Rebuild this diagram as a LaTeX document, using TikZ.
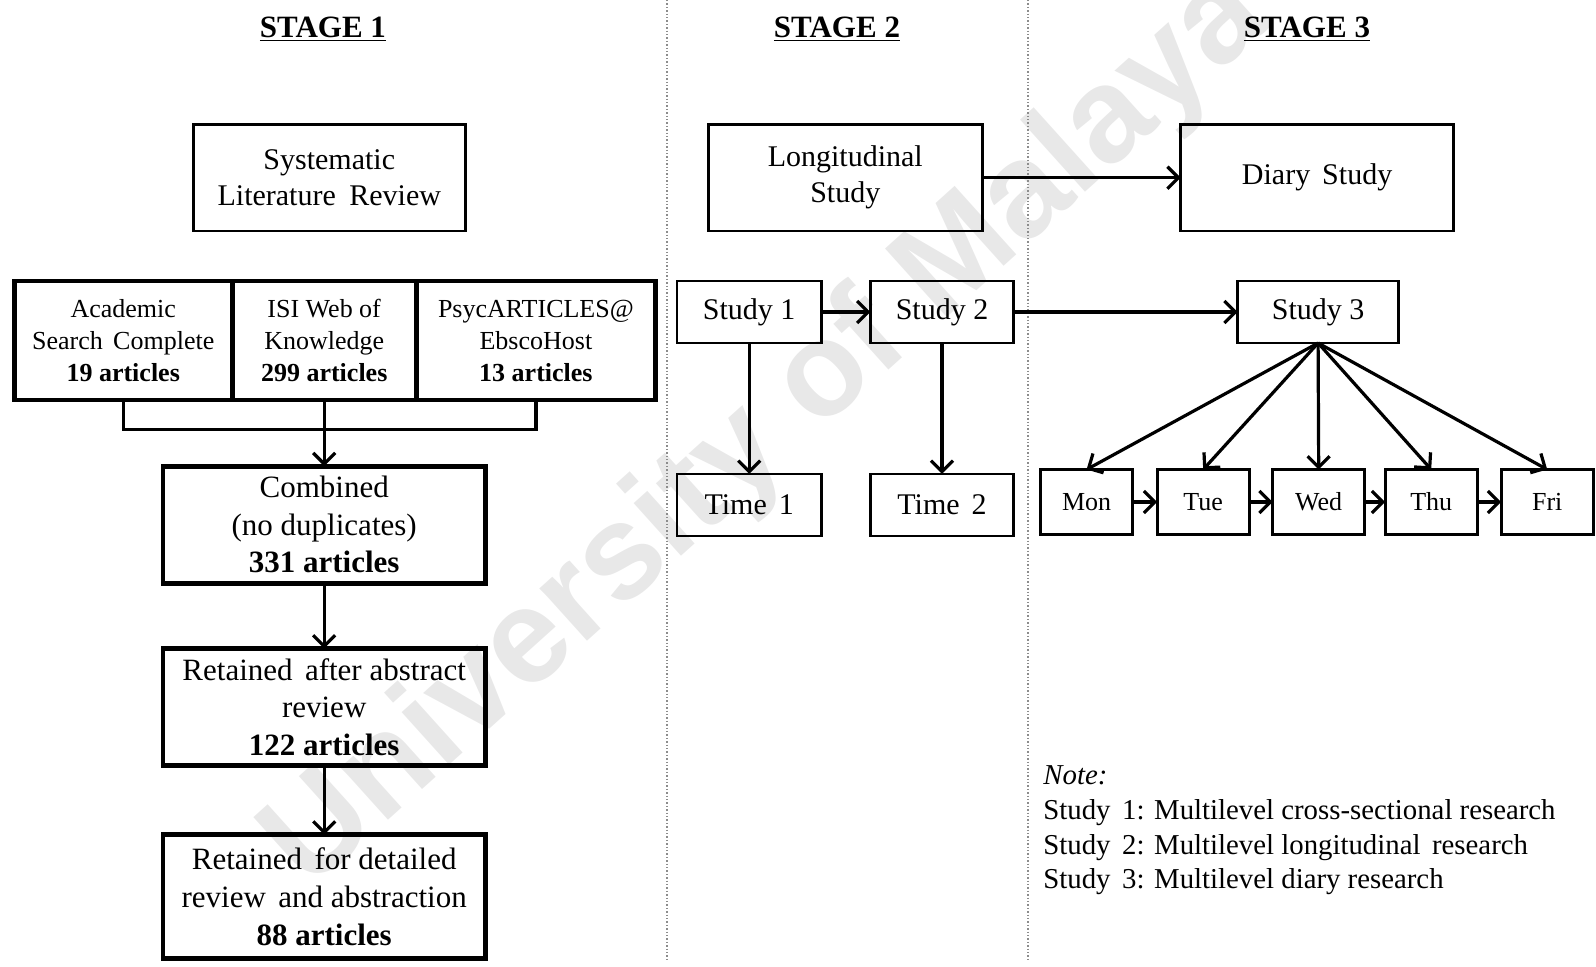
\documentclass[tikz,border=0pt]{standalone}
\usepackage{fontspec}
\setmainfont{Liberation Serif}
\newfontfamily\wmfont{Liberation Sans}
\usetikzlibrary{arrows.meta}

\begin{document}
\begin{tikzpicture}[x=0.5pt,y=-0.5pt,
  box/.style={draw, line width=1.3pt, inner sep=0pt, outer sep=0pt, align=center,
    font=\fontsize{15}{18}\selectfont},
  heavybox/.style={box, line width=2.4pt, font=\fontsize{15.5}{18.8}\selectfont,
    minimum width=161.3pt},
  dbbox/.style={heavybox, font=\fontsize{13}{16}\selectfont, minimum height=59.5pt},
  studybox/.style={box, minimum height=31pt},
  daybox/.style={box, font=\fontsize{13}{15}\selectfont, minimum width=46pt, minimum height=32.5pt},
  conn/.style={line width=1.6pt},
  arr/.style={conn, -{Straight Barb[length=5.5pt,width=11pt]}},
  stagehead/.style={font=\fontsize{15.5}{18}\selectfont\bfseries, inner sep=0pt, anchor=base},
  divider/.style={black!45, densely dotted, line width=0.7pt},
  notetext/.style={anchor=base west, inner sep=0pt, font=\fontsize{14.4}{17}\selectfont}
]
\useasboundingbox (0,0) rectangle (1596,966);

% faint diagonal watermark behind everything
\node[rotate=42, text=black!9, inner sep=0pt,
      font=\wmfont\bfseries\fontsize{67}{67}\selectfont] (wm) at (768,432) {University of Malaya};

% column separators
\coordinate (d1t) at (667,0);   \coordinate (d1b) at (667,962);
\coordinate (d2t) at (1028,0);  \coordinate (d2b) at (1028,962);
\draw[divider] (d1t) -- (d1b);
\draw[divider] (d2t) -- (d2b);

% stage headings
\node[stagehead] (h1) at (323,37.7)  {\underline{STAGE 1}};
\node[stagehead] (h2) at (837,37.7)  {\underline{STAGE 2}};
\node[stagehead] (h3) at (1307,37.7) {\underline{STAGE 3}};

% ---------- Stage 1: literature review flow ----------
\node[box, minimum width=135.9pt, minimum height=53.4pt] (slr) at (329.3,177.7)
  {Systematic\\Literature\hspace{0.45em}Review};

\node[dbbox, minimum width=108.9pt] (db1) at (123.2,340.5)
  {Academic\\Search\hspace{0.4em}Complete\\\textbf{19 articles}};
\node[dbbox, minimum width=92.1pt] (db2) at (324.2,340.5)
  {ISI Web of\\Knowledge\\\textbf{299 articles}};
\node[dbbox, minimum width=119.6pt] (db3) at (535.9,340.5)
  {PsycARTICLES@\\EbscoHost\\\textbf{13 articles}};

\node[heavybox, minimum height=58.5pt] (comb) at (324.2,524.7)
  {Combined\\(no duplicates)\\\textbf{331 articles}};
\node[heavybox, minimum height=58.5pt] (abst) at (324.2,707)
  {Retained\hspace{0.4em}after abstract\\review\\\textbf{122 articles}};
\node[heavybox, minimum height=62.1pt] (detl) at (324.2,896.7)
  {Retained\hspace{0.4em}for detailed\\review\hspace{0.4em}and abstraction\\\textbf{88 articles}};

\draw[conn] (db1.south) -- ++(0,29.5) -| (db3.south);
\draw[arr] (db2.south) -- (comb.north);
\draw[arr] (comb.south) -- (abst.north);
\draw[arr] (abst.south) -- (detl.north);

% ---------- Stage 2: longitudinal study ----------
\node[box, minimum width=136.9pt, minimum height=53.4pt] (long) at (845.3,177.7)
  {Longitudinal\\Study};
\node[studybox, minimum width=72.2pt] (s1) at (749.2,312) {Study 1};
\node[studybox, minimum width=71.7pt] (s2) at (942,312)   {Study 2};
\node[studybox, minimum width=72.2pt] (t1) at (749.2,504.9) {Time\hspace{0.4em}1};
\node[studybox, minimum width=71.7pt] (t2) at (942,504.9)   {Time\hspace{0.4em}2};

\draw[arr] (s1.east) -- (s2.west);
\draw[arr] (s1.south) -- (t1.north);
\draw[arr] (s2.south) -- (t2.north);

% ---------- Stage 3: diary study ----------
\node[box, minimum width=136.4pt, minimum height=53.4pt] (diary) at (1317.1,177.7)
  {Diary\hspace{0.4em}Study};
\node[studybox, minimum width=80.4pt] (s3) at (1318.1,312) {Study 3};

\draw[arr] (long.east) -- (diary.west);
\draw[arr] (s2.east) -- (s3.west);

\node[daybox] (mon) at (1086.6,502) {Mon};
\node[daybox] (tue) at (1203.2,502) {Tue};
\node[daybox] (wed) at (1318.7,502) {Wed};
\node[daybox] (thu) at (1431.2,502) {Thu};
\node[daybox] (fri) at (1547.2,502) {Fri};

\foreach \d in {mon,tue,wed,thu,fri}
  \draw[arr] (s3.south) -- (\d.north);
\draw[arr] (mon.east) -- (tue.west);
\draw[arr] (tue.east) -- (wed.west);
\draw[arr] (wed.east) -- (thu.west);
\draw[arr] (thu.east) -- (fri.west);

% key to the studies
\node[notetext] (n0) at (1043,784)   {\textit{Note:}};
\node[notetext] (n1) at (1043,819.5) {Study\hspace{0.4em}1: Multilevel cross-sectional research};
\node[notetext] (n2) at (1043,854.5) {Study\hspace{0.4em}2: Multilevel longitudinal\hspace{0.4em}research};
\node[notetext] (n3) at (1043,888.5) {Study\hspace{0.4em}3: Multilevel diary research};

\end{tikzpicture}
\end{document}
